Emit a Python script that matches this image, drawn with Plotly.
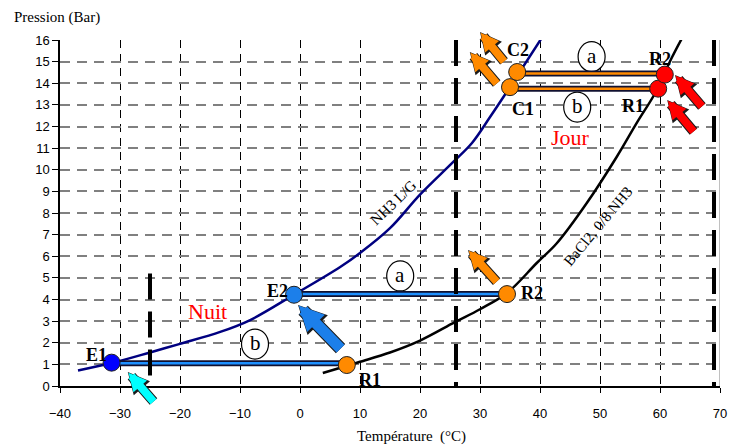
import plotly.graph_objects as go

# ---------------- data ----------------
nh3_T = [-37, -31.4, -25, -20, -13.3, -8.3, -1.0, 6.7, 10, 15, 20, 25.5, 28.7, 31.7, 34.7, 40.3]
nh3_P = [0.72, 1.06, 1.55, 1.95, 2.5, 3.05, 4.22, 5.5, 6.15, 7.3, 8.85, 10.35, 11.25, 12.45, 13.7, 16.1]

bacl_T = [3.8, 8, 10, 15, 20, 25.8, 30, 34.5, 39.5, 42.8, 47.8, 52.8, 56.2, 59.2, 62, 63.7]
bacl_P = [0.6, 0.95, 1.12, 1.55, 2.1, 2.95, 3.55, 4.3, 5.7, 6.6, 8.46, 10.6, 12.2, 13.55, 15.2, 16.1]

pt_names = ["E1", "E2", "R1", "R2", "C1", "C2", "R1", "R2"]
pt_T = [-31.4, -1.0, 7.8, 34.5, 35.0, 36.2, 59.7, 60.8]
pt_P = [1.08, 4.22, 0.97, 4.25, 13.82, 14.52, 13.75, 14.4]
pt_col = ["#0000FF", "#1C7FEA", "#FF8A00", "#FF8A00", "#FF8A00", "#FF8A00", "#FF0000", "#FF0000"]
lbl_T = [-34.0, -3.8, 11.7, 38.6, 37.2, 36.3, 55.5, 60.0]
lbl_P = [1.43, 4.4, 0.28, 4.3, 12.8, 15.55, 12.95, 15.1]

# tubes (T start, T end, P, inner colour)
tube_T0 = [-31.4, -1.0, 36.2, 35.0]
tube_T1 = [7.8, 34.5, 60.8, 59.7]
tube_P = [1.05, 4.25, 14.45, 13.75]
tube_col = ["#1E90FF", "#1E90FF", "#FF8A00", "#FF8A00"]

# circled letters
circ_txt = ["a", "b", "a", "b"]
circ_T = [48.6, 46.2, 16.7, -7.5]
circ_P = [15.23, 12.9, 5.09, 1.94]

# arrows (tail -> head), data units
arr_T0 = [-24.2, 7.0, 33.0, 34.2, 33.0, 67.2, 65.8]
arr_P0 = [-0.79, 1.66, 4.76, 14.94, 13.92, 12.86, 11.7]
arr_T1 = [-28.7, -0.33, 28.0, 30.0, 28.3, 62.5, 61.2]
arr_P1 = [0.65, 3.75, 6.29, 16.37, 15.45, 14.38, 13.23]
arr_col = ["#00FFFF", "#1C7FEA", "#FF8A00", "#FF8A00", "#FF8A00", "#FF0000", "#FF0000"]
arr_w = [8, 11, 8, 8, 8, 8, 8]

# thick dashed vertical limits (T, P top)
lim_T = [-25, 26, 69]
lim_Ptop = [5.2, 16, 16]

X_MIN, X_MAX, Y_MIN, Y_MAX = -40, 70, 0, 16
SERIF = "Liberation Serif"
SANS = "Liberation Sans"

fig = go.Figure()

# curves
fig.add_trace(go.Scatter(x=nh3_T, y=nh3_P, mode="lines",
                         line=dict(color="#000080", width=2.5, shape="spline", smoothing=1.0),
                         hoverinfo="skip", showlegend=False))
fig.add_trace(go.Scatter(x=bacl_T, y=bacl_P, mode="lines",
                         line=dict(color="#000000", width=2.5, shape="spline", smoothing=1.0),
                         hoverinfo="skip", showlegend=False))

# tubes
for t0, t1, p, c in zip(tube_T0, tube_T1, tube_P, tube_col):
    fig.add_trace(go.Scatter(x=[t0, t1], y=[p, p], mode="lines", line=dict(color="#101030", width=6),
                             hoverinfo="skip", showlegend=False))
    fig.add_trace(go.Scatter(x=[t0, t1], y=[p, p], mode="lines", line=dict(color=c, width=2.5),
                             hoverinfo="skip", showlegend=False))

# points
fig.add_trace(go.Scatter(x=pt_T, y=pt_P, mode="markers",
                         marker=dict(size=17, color=pt_col, line=dict(color="#202020", width=1)),
                         hoverinfo="skip", showlegend=False, cliponaxis=False))

annotations = []
shapes = []
for s, t, p in zip(circ_txt, circ_T, circ_P):
    shapes.append(dict(type="circle", xref="x", yref="y", xsizemode="pixel", ysizemode="pixel",
                       xanchor=t, yanchor=p, x0=-13.5, x1=13.5, y0=-15, y1=15, layer="between",
                       fillcolor="white", line=dict(color="#000000", width=1.2)))
    annotations.append(dict(x=t, y=p, xref="x", yref="y", text=s, showarrow=False, yshift=1,
                            font=dict(family=SERIF, size=21, color="#000000")))

for n, t, p in zip(pt_names, lbl_T, lbl_P):
    annotations.append(dict(x=t, y=p, xref="x", yref="y", text="<b>%s</b>" % n, showarrow=False,
                            font=dict(family=SERIF, size=18, color="#000000")))


def dom_x(t):
    return (t - X_MIN) / (X_MAX - X_MIN)


def dom_y(p):
    return (p - Y_MIN) / (Y_MAX - Y_MIN)


for t0, p0, t1, p1, c, w in zip(arr_T0, arr_P0, arr_T1, arr_P1, arr_col, arr_w):
    common = dict(x=dom_x(t1), y=dom_y(p1), ax=dom_x(t0), ay=dom_y(p0),
                  xref="x domain", yref="y domain", axref="x domain", ayref="y domain",
                  text="", showarrow=True, arrowhead=2)
    annotations.append(dict(common, arrowsize=(0.45 * w + 0.7) / (w + 2), arrowwidth=w + 2,
                            arrowcolor="#1A1A1A"))
    annotations.append(dict(common, arrowsize=0.45, arrowwidth=w, arrowcolor=c, standoff=1))

for t, ptop in zip(lim_T, lim_Ptop):
    shapes.append(dict(type="line", xref="x", yref="y", x0=t, x1=t, y0=ptop, y1=-0.1,
                       line=dict(color="#000000", width=4, dash="26px,12px")))
shapes.append(dict(type="line", xref="x", yref="y", x0=X_MAX, x1=X_MAX, y0=Y_MIN, y1=Y_MAX,
                   line=dict(color="#808080", width=1)))

# text labels
annotations += [
    dict(x=-15.5, y=3.45, xref="x", yref="y", text="Nuit", showarrow=False,
         font=dict(family=SERIF, size=22, color="#FF0000")),
    dict(x=45, y=11.5, xref="x", yref="y", text="Jour", showarrow=False,
         font=dict(family=SERIF, size=22, color="#FF0000")),
    dict(x=15.5, y=8.46, xref="x", yref="y", text="NH3 L/G", showarrow=False, textangle=-44,
         font=dict(family=SERIF, size=15, color="#000000")),
    dict(x=49.7, y=7.4, xref="x", yref="y", text="BaCl2, 0/8 NH3", showarrow=False, textangle=-50,
         font=dict(family=SERIF, size=15, color="#000000")),
    dict(x=-0.0727, y=1.066, xref="paper", yref="paper", text="Pression (Bar)", showarrow=False,
         xanchor="left", yanchor="middle", font=dict(family=SERIF, size=15, color="#000000")),
    dict(x=0.532, y=-0.147, xref="paper", yref="paper", text="Température  (°C)", showarrow=False,
         xanchor="center", yanchor="middle", font=dict(family=SERIF, size=15, color="#000000")),
]

fig.update_layout(
    width=729, height=448,
    margin=dict(l=60, r=9, t=40, b=62, autoexpand=False),
    paper_bgcolor="white", plot_bgcolor="white",
    showlegend=False,
    shapes=shapes, annotations=annotations,
    xaxis=dict(range=[X_MIN, X_MAX], dtick=10, tick0=-40, showgrid=True, gridcolor="#000000",
               gridwidth=1, griddash="8px,6px", zeroline=False, showline=True, linecolor="#000000",
               linewidth=1.5, ticks="outside", ticklen=5, tickcolor="#000000", automargin=False,
               ticklabeloverflow="allow",
               tickfont=dict(family=SANS, size=13, color="#000000"), ticklabelstandoff=10),
    yaxis=dict(range=[Y_MIN, Y_MAX], dtick=1, tick0=0, showgrid=True, gridcolor="#808080",
               gridwidth=1.5, griddash="10px,7px", zeroline=False, showline=True, linecolor="#000000",
               linewidth=1.5, ticks="outside", ticklen=6, tickcolor="#000000", automargin=False,
               tickfont=dict(family=SANS, size=13, color="#000000")),
)

# remove the page's default 8px body margin so the 729x448 figure fills the window exactly
fig.write_html("out.html", config={"displayModeBar": False},
               post_script="document.body.style.margin='0px';document.body.style.overflow='hidden';")
